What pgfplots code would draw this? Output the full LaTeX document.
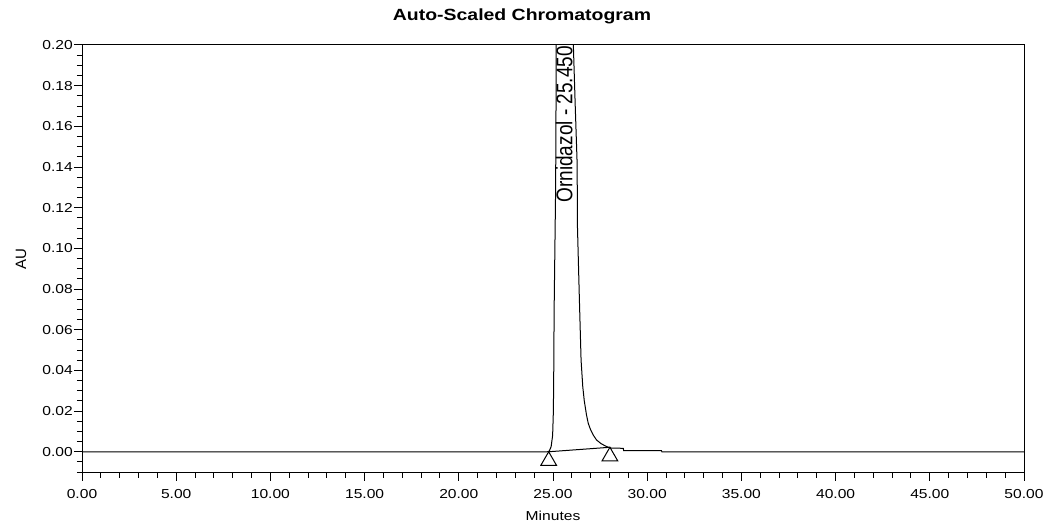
\documentclass[border=0pt]{standalone}
\usepackage{pgfplots}
\pgfplotsset{compat=1.18}
\usepackage{graphicx}
\usepackage{fontspec}
\setmainfont[FakeStretch=1.2]{Liberation Sans}
\newfontfamily\plainfont{Liberation Sans}
\begin{document}
\begin{tikzpicture}
\begin{axis}[
  scale only axis, width=942pt, height=427.7pt,
  xmin=0, xmax=50, ymin=-0.0103, ymax=0.2,
  clip mode=individual,
  axis line style={line width=1pt, black},
  xtick={0,5,10,15,20,25,30,35,40,45,50},
  ytick={0,0.02,0.04,0.06,0.08,0.1,0.12,0.14,0.16,0.18,0.2},
  minor xtick={0,1,...,50},
  minor ytick={-0.01,-0.005,0.005,0.01,0.015,0.025,0.03,0.035,0.045,0.05,0.055,0.065,0.07,0.075,0.085,0.09,0.095,0.105,0.11,0.115,0.125,0.13,0.135,0.145,0.15,0.155,0.165,0.17,0.175,0.185,0.19,0.195},
  tick align=outside, xtick pos=left, ytick pos=left,
  major tick length=8pt, minor tick length=5pt,
  every tick/.style={black, line width=1pt},
  /pgf/number format/assume math mode=true,
  xticklabel style={font=\fontsize{13}{13}\selectfont, anchor=north, inner sep=0pt, yshift=-9pt,
    /pgf/number format/fixed, /pgf/number format/fixed zerofill, /pgf/number format/precision=2},
  yticklabel style={font=\fontsize{13}{13}\selectfont, anchor=east, inner sep=0pt, xshift=-1pt,
    /pgf/number format/fixed, /pgf/number format/fixed zerofill, /pgf/number format/precision=2},
  scaled y ticks=false, scaled x ticks=false,
  xlabel={Minutes},
  xlabel style={at={(axis description cs:0.5,0)}, anchor=north, inner sep=0pt, yshift=-38pt, font=\fontsize{13}{13}\selectfont},
  ylabel={\plainfont\fontsize{15}{15}\selectfont AU},
  ylabel style={at={(axis description cs:-0.0648,0.5)}, anchor=center, inner sep=0pt},
  title={Auto-Scaled Chromatogram},
  title style={at={(axis description cs:0.4671,1)}, anchor=base, yshift=18.3pt, inner sep=0pt, font=\bfseries\fontsize{16.2}{16.2}\selectfont},
]
\addplot[black, line width=1pt] coordinates {
(0,0) (24.70,0) (24.80,0.0003) (24.90,0.0025) (24.98,0.008) (25.02,0.02) (25.04,0.04)
(25.06,0.07) (25.10,0.10) (25.14,0.13) (25.16,0.17) (25.17,0.20) (25.25,0.35) (25.45,0.60)
(25.75,0.40) (26.00,0.24) (26.08,0.20) (26.18,0.17) (26.28,0.142) (26.30,0.11) (26.40,0.075)
(26.49,0.045) (26.58,0.032) (26.66,0.025) (26.78,0.018) (26.87,0.014) (27.00,0.0107)
(27.15,0.008) (27.31,0.0058) (27.55,0.0040) (27.85,0.0025) (28.1,0.0018) (28.73,0.0017)
(28.75,0.0005) (30.76,0.0005) (30.78,0) (50,0)
};
\addplot[black, line width=1pt] coordinates {(24.77,0) (28.02,0.0022)};
\addplot[only marks, mark=triangle, mark size=9pt, mark options={yshift=-9pt, fill=white, draw=black, line width=1pt}] coordinates {(24.77,0) (28.02,0.0022)};
\node[rotate=90, anchor=center, inner sep=0pt] at (axis cs:25.6,0.161) {\plainfont\fontsize{19}{19}\selectfont\scalebox{1}[1.2]{Ornidazol - 25.450}};
\end{axis}
\pgfresetboundingbox
\path[use as bounding box] ([shift={(-82pt,-49.3pt)}]current axis.south west) rectangle ([shift={(20pt,45pt)}]current axis.north east);
\end{tikzpicture}
\end{document}
